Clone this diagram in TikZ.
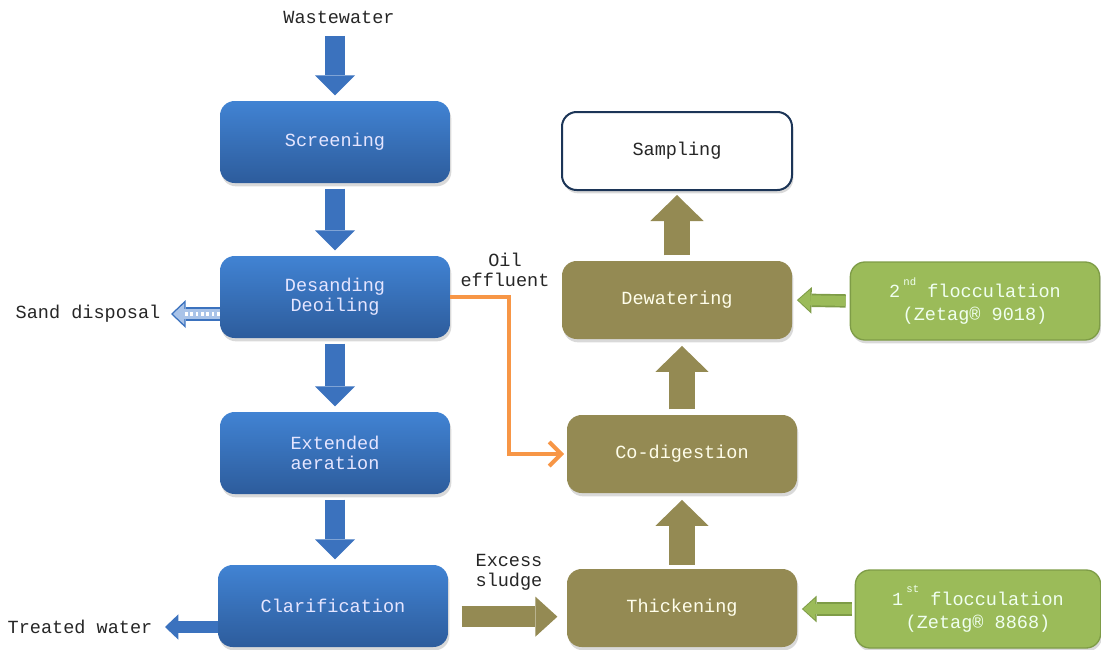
\documentclass[tikz,border=0pt]{standalone}
\usepackage{fontspec}
\setmainfont{Liberation Mono}
\usetikzlibrary{arrows.meta,shadows}

\definecolor{procTop}{HTML}{4183D3}
\definecolor{procBot}{HTML}{2D5C9C}
\definecolor{sludge}{HTML}{948A53}
\definecolor{floc}{HTML}{9BBB59}
\definecolor{flocLine}{HTML}{7E9C47}
\definecolor{oilline}{HTML}{F79646}
\definecolor{navy}{HTML}{1C3557}
\definecolor{arrowBlue}{HTML}{3B72BE}
\definecolor{sandBlue}{HTML}{A9C3E8}

\begin{document}
\begin{tikzpicture}[x=0.75pt,y=-0.75pt]
    % Define basic styles
    \tikzset{
        box/.style={
            rectangle,
            rounded corners=11pt,
            minimum width=172.5pt,
            minimum height=58.5pt,
            align=center,
            font=\fontsize{13.9}{14.8}\selectfont,
            drop shadow={opacity=0.3,shadow xshift=1pt,shadow yshift=-2.5pt}
        },
        treat/.style={box, top color=procTop, bottom color=procBot, text=white!90!blue, minimum height=61.5pt},
        sludgebox/.style={box, fill=sludge, text=white!92!yellow},
        sample/.style={box, draw=navy, line width=1.5pt, fill=white, text=black!85},
        flocbox/.style={box, draw=flocLine, line width=1pt, fill=floc, text=white!94!green,
            font=\fontsize{13.9}{17}\selectfont},
        label/.style={align=center, text=black!85, font=\fontsize{13.9}{14.8}\selectfont},
        blueflow/.style={draw=arrowBlue, line width=15pt,
            -{Triangle[width=30pt,length=15pt,line width=0pt]}, shorten <=4pt, shorten >=4pt},
        sludgeflow/.style={draw=sludge, line width=20pt,
            -{Triangle[width=40pt,length=19.5pt,line width=0pt]}, shorten <=4pt, shorten >=5pt},
        flocflow/.style={draw=flocLine, line width=10pt,
            -{Triangle[width=20pt,length=11pt,line width=0pt]}, shorten <=3pt, shorten >=3.5pt,
            postaction={draw=floc, line width=7.5pt,
                -{Triangle[width=16pt,length=9pt,line width=0pt]}, shorten >=4.5pt}},
        oilflow/.style={draw=oilline, line width=3pt, line join=miter,
            -{Straight Barb[width=18pt,length=9pt,line width=3pt]}, shorten >=2pt}
    }
    \useasboundingbox (0,0) rectangle (1101,650);

    % Treatment line (blue)
    \node[label] (wastewater) at (339,17) {Wastewater};
    \node[treat] (screening) at (335,142) {Screening};
    \node[treat] (desanding) at (335,297) {Desanding\\Deoiling};
    \node[treat] (aeration) at (335,453) {Extended\\aeration};
    \node[treat] (clarification) at (333,606) {Clarification};

    % Sludge line (olive)
    \node[sample] (sampling) at (677,151) {Sampling};
    \node[sludgebox] (dewatering) at (677,300) {Dewatering};
    \node[sludgebox] (codigestion) at (682,454) {Co-digestion};
    \node[sludgebox] (thickening) at (682,608) {Thickening};

    % Flocculants (green)
    \node[flocbox, minimum width=187pt] (floc2) at (975,301)
        {2\,\raisebox{1.3ex}{\fontsize{8}{8}\selectfont nd} flocculation\\(Zetag® 9018)};
    \node[flocbox, minimum width=184pt] (floc1) at (978,609)
        {1\,\raisebox{1.3ex}{\fontsize{8}{8}\selectfont st} flocculation\\(Zetag® 8868)};

    % Side labels
    \node[label] (sand) at (88,314) {Sand disposal};
    \node[label] (treated) at (80,627) {Treated water};
    \node[label] (oil) at (505,270) {Oil\\effluent};
    \node[label] (excess) at (509,572) {Excess\\sludge};

    % Treatment line connections
    \draw[blueflow, shorten <=6pt] (screening.north |- wastewater.south) -- (screening.north);
    \draw[blueflow] (screening.south) -- (desanding.north);
    \draw[blueflow] (desanding.south) -- (aeration.north);
    \draw[blueflow] (aeration.south) -- (aeration.south |- clarification.north);
    \draw[draw=arrowBlue, line width=9pt, -{Triangle[width=19pt,length=10pt,line width=0pt]},
        shorten >=6pt] (treated.east -| clarification.west) -- (treated.east);
    \draw[draw=arrowBlue, line width=11pt, -{Triangle[width=21pt,length=11pt,line width=0pt]},
        shorten >=4.5pt] (sand.east -| desanding.west) -- (sand.east);
    \draw[draw=sandBlue, line width=8pt, -{Triangle[width=16pt,length=8.5pt,line width=0pt]},
        shorten >=6pt] (sand.east -| desanding.west) -- (sand.east);
    \draw[white, line width=3pt, dash pattern=on 2pt off 2pt, shorten >=14pt]
        (sand.east -| desanding.west) -- (sand.east);

    % Oil effluent to co-digestion
    \draw[oilflow] (desanding.east) -- ++(59,0) |- (codigestion.west);

    % Excess sludge
    \draw[draw=sludge, line width=16pt, -{Triangle[width=30pt,length=16.5pt,line width=0pt]},
        shorten <=10pt, shorten >=7pt]
        ([yshift=-8pt]clarification.east) -- ([yshift=-8pt]clarification.east -| thickening.west);

    % Sludge line connections
    \draw[sludgeflow, shorten <=3pt] (thickening.north) -- (codigestion.south);
    \draw[sludgeflow] (codigestion.north) -- (codigestion.north |- dewatering.south);
    \draw[sludgeflow, shorten >=3pt] (dewatering.north) -- (sampling.south);

    % Flocculant dosing
    \draw[flocflow] (floc2.west) -- (dewatering.east);
    \draw[flocflow, shorten <=2pt] (floc1.west) -- (floc1.west -| thickening.east);
\end{tikzpicture}
\end{document}
